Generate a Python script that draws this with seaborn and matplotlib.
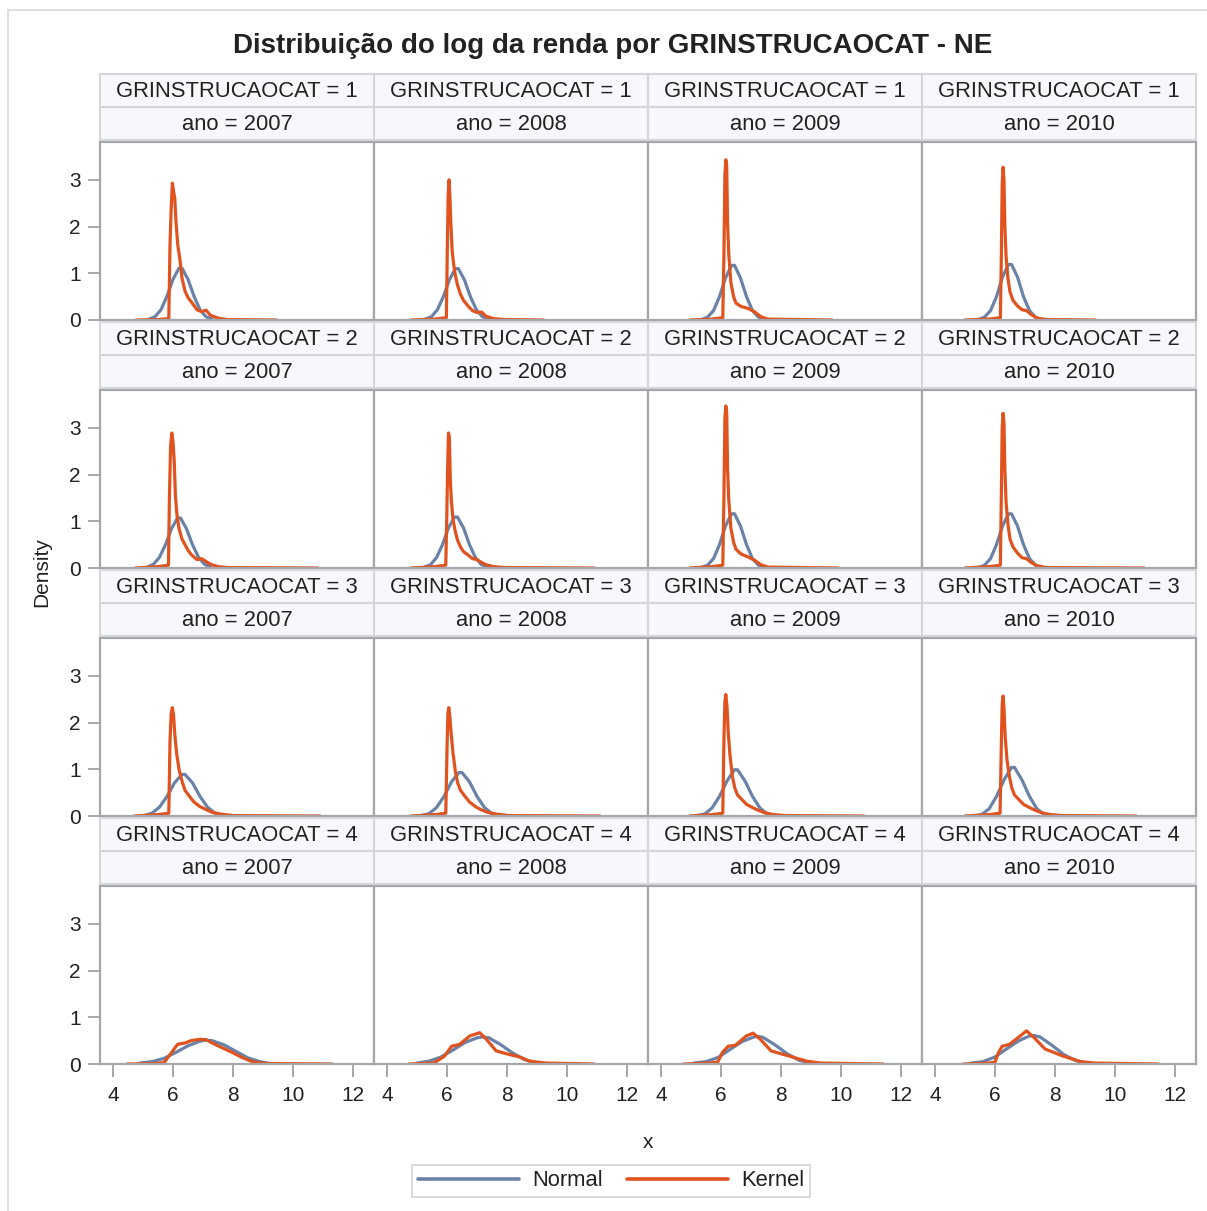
import matplotlib
matplotlib.use("Agg")
import matplotlib.pyplot as plt
import seaborn as sns
import pandas as pd
from matplotlib.patches import Rectangle
from matplotlib.lines import Line2D
from matplotlib import font_manager

# ---------------- data ----------------
grupos = [1, 2, 3, 4]
anos = [2007, 2008, 2009, 2010]
curvas = ["Normal", "Kernel"]

# GRINSTRUCAOCAT = 1
n1_2007_x = [5.2, 5.4, 5.6, 5.8, 6.0, 6.2, 6.3, 6.5, 6.7, 6.9, 7.1, 7.3]
n1_2007_y = [0.02, 0.07, 0.22, 0.51, 0.87, 1.11, 1.11, 0.87, 0.51, 0.22, 0.07, 0.02]
k1_2007_x = [4.77, 5.5, 5.86, 5.9, 5.94, 5.98, 6.02, 6.06, 6.1, 6.16, 6.23, 6.3, 6.4, 6.5, 6.62, 6.8, 6.95, 7.1, 7.25, 7.5, 7.8, 9.45]
k1_2007_y = [0.0, 0.01, 0.03, 1.6, 2.4, 2.93, 2.75, 2.6, 2.1, 1.6, 1.3, 0.9, 0.62, 0.48, 0.38, 0.22, 0.18, 0.21, 0.1, 0.04, 0.01, 0.0]
n1_2008_x = [5.28, 5.48, 5.68, 5.88, 6.08, 6.28, 6.38, 6.58, 6.78, 6.98, 7.18, 7.38]
n1_2008_y = [0.02, 0.07, 0.22, 0.5, 0.86, 1.1, 1.1, 0.86, 0.5, 0.22, 0.07, 0.02]
k1_2008_x = [4.8, 5.6, 5.98, 6.01, 6.04, 6.07, 6.1, 6.13, 6.17, 6.22, 6.28, 6.35, 6.45, 6.55, 6.7, 6.85, 7.0, 7.15, 7.3, 7.55, 7.9, 9.22]
k1_2008_y = [0.0, 0.02, 0.05, 1.5, 2.7, 3.0, 2.6, 2.05, 1.5, 1.2, 0.95, 0.75, 0.55, 0.42, 0.3, 0.2, 0.16, 0.17, 0.08, 0.03, 0.01, 0.0]
n1_2009_x = [5.35, 5.55, 5.75, 5.95, 6.15, 6.35, 6.45, 6.65, 6.85, 7.05, 7.25, 7.45]
n1_2009_y = [0.01, 0.06, 0.2, 0.5, 0.9, 1.17, 1.17, 0.9, 0.5, 0.2, 0.06, 0.01]
k1_2009_x = [4.95, 5.7, 6.06, 6.1, 6.13, 6.16, 6.19, 6.22, 6.26, 6.33, 6.42, 6.5, 6.67, 6.89, 7.11, 7.33, 7.56, 9.7]
k1_2009_y = [0.0, 0.02, 0.05, 1.5, 3.1, 3.43, 3.3, 2.05, 1.4, 0.8, 0.5, 0.36, 0.29, 0.25, 0.18, 0.07, 0.02, 0.0]
n1_2010_x = [5.45, 5.65, 5.85, 6.05, 6.25, 6.45, 6.55, 6.75, 6.95, 7.15, 7.35, 7.55]
n1_2010_y = [0.01, 0.06, 0.2, 0.5, 0.92, 1.19, 1.19, 0.92, 0.5, 0.2, 0.06, 0.01]
k1_2010_x = [5.0, 5.8, 6.18, 6.21, 6.24, 6.27, 6.3, 6.33, 6.37, 6.43, 6.5, 6.6, 6.75, 6.9, 7.05, 7.2, 7.4, 7.7, 9.35]
k1_2010_y = [0.0, 0.02, 0.05, 1.3, 2.9, 3.27, 3.0, 2.0, 1.35, 0.9, 0.6, 0.42, 0.3, 0.22, 0.2, 0.12, 0.04, 0.01, 0.0]

# GRINSTRUCAOCAT = 2
n2_2007_x = [5.15, 5.35, 5.55, 5.75, 5.95, 6.15, 6.25, 6.45, 6.65, 6.85, 7.05, 7.25]
n2_2007_y = [0.02, 0.08, 0.23, 0.5, 0.84, 1.07, 1.07, 0.84, 0.5, 0.23, 0.08, 0.02]
k2_2007_x = [4.75, 5.5, 5.85, 5.88, 5.92, 5.96, 6.0, 6.04, 6.08, 6.13, 6.2, 6.3, 6.4, 6.5, 6.62, 6.8, 6.95, 7.1, 7.25, 7.5, 7.8, 10.83]
k2_2007_y = [0.0, 0.03, 0.06, 1.5, 2.6, 2.89, 2.7, 2.3, 1.55, 1.15, 0.85, 0.62, 0.5, 0.38, 0.28, 0.18, 0.2, 0.14, 0.08, 0.03, 0.01, 0.0]
n2_2008_x = [5.25, 5.45, 5.65, 5.85, 6.05, 6.25, 6.35, 6.55, 6.75, 6.95, 7.15, 7.35]
n2_2008_y = [0.02, 0.07, 0.22, 0.5, 0.86, 1.09, 1.09, 0.86, 0.5, 0.22, 0.07, 0.02]
k2_2008_x = [4.8, 5.6, 5.96, 5.99, 6.02, 6.05, 6.08, 6.11, 6.15, 6.2, 6.27, 6.35, 6.45, 6.55, 6.7, 6.85, 7.0, 7.15, 7.3, 7.55, 7.9, 10.9]
k2_2008_y = [0.0, 0.03, 0.06, 1.0, 2.1, 2.89, 2.8, 1.9, 1.4, 1.05, 0.8, 0.6, 0.45, 0.35, 0.28, 0.2, 0.18, 0.12, 0.07, 0.03, 0.01, 0.0]
n2_2009_x = [5.35, 5.55, 5.75, 5.95, 6.15, 6.35, 6.45, 6.65, 6.85, 7.05, 7.25, 7.45]
n2_2009_y = [0.01, 0.06, 0.2, 0.5, 0.9, 1.16, 1.16, 0.9, 0.5, 0.2, 0.06, 0.01]
k2_2009_x = [4.95, 5.7, 6.06, 6.1, 6.13, 6.16, 6.19, 6.22, 6.26, 6.33, 6.42, 6.5, 6.67, 6.89, 7.11, 7.33, 7.56, 9.92]
k2_2009_y = [0.0, 0.03, 0.06, 1.6, 3.2, 3.47, 3.35, 2.1, 1.45, 0.85, 0.55, 0.4, 0.3, 0.24, 0.17, 0.07, 0.02, 0.0]
n2_2010_x = [5.45, 5.65, 5.85, 6.05, 6.25, 6.45, 6.55, 6.75, 6.95, 7.15, 7.35, 7.55]
n2_2010_y = [0.01, 0.06, 0.2, 0.5, 0.9, 1.16, 1.16, 0.9, 0.5, 0.2, 0.06, 0.01]
k2_2010_x = [5.0, 5.8, 6.18, 6.21, 6.24, 6.27, 6.3, 6.33, 6.37, 6.43, 6.5, 6.6, 6.75, 6.9, 7.05, 7.2, 7.4, 7.7, 10.97]
k2_2010_y = [0.0, 0.03, 0.06, 1.5, 3.0, 3.31, 3.1, 2.1, 1.4, 0.95, 0.62, 0.45, 0.32, 0.22, 0.2, 0.12, 0.05, 0.01, 0.0]

# GRINSTRUCAOCAT = 3
n3_2007_x = [5.05, 5.3, 5.55, 5.8, 6.05, 6.3, 6.4, 6.65, 6.9, 7.15, 7.4, 7.65]
n3_2007_y = [0.01, 0.06, 0.19, 0.42, 0.71, 0.89, 0.89, 0.71, 0.42, 0.19, 0.06, 0.01]
k3_2007_x = [4.7, 5.5, 5.86, 5.9, 5.94, 5.98, 6.02, 6.06, 6.12, 6.2, 6.3, 6.4, 6.55, 6.7, 6.9, 7.1, 7.3, 7.6, 8.0, 10.9]
k3_2007_y = [0.0, 0.03, 0.06, 1.6, 2.2, 2.32, 2.15, 1.75, 1.35, 1.0, 0.75, 0.55, 0.42, 0.3, 0.2, 0.14, 0.08, 0.04, 0.01, 0.0]
n3_2008_x = [5.15, 5.4, 5.65, 5.9, 6.15, 6.4, 6.5, 6.75, 7.0, 7.25, 7.5, 7.75]
n3_2008_y = [0.01, 0.05, 0.18, 0.42, 0.73, 0.93, 0.93, 0.73, 0.42, 0.18, 0.05, 0.01]
k3_2008_x = [4.8, 5.6, 5.96, 6.0, 6.03, 6.06, 6.1, 6.14, 6.2, 6.28, 6.36, 6.45, 6.6, 6.75, 6.95, 7.15, 7.35, 7.65, 8.05, 11.1]
k3_2008_y = [0.0, 0.03, 0.06, 1.4, 2.2, 2.32, 2.1, 1.75, 1.35, 0.95, 0.7, 0.55, 0.42, 0.3, 0.2, 0.13, 0.08, 0.04, 0.01, 0.0]
n3_2009_x = [5.2, 5.45, 5.7, 5.95, 6.2, 6.45, 6.55, 6.8, 7.05, 7.3, 7.55, 7.8]
n3_2009_y = [0.01, 0.04, 0.17, 0.42, 0.75, 0.99, 0.99, 0.75, 0.42, 0.17, 0.04, 0.01]
k3_2009_x = [4.95, 5.7, 6.06, 6.1, 6.13, 6.16, 6.2, 6.24, 6.3, 6.38, 6.46, 6.55, 6.7, 6.85, 7.05, 7.25, 7.45, 7.75, 8.15, 10.76]
k3_2009_y = [0.0, 0.03, 0.06, 1.7, 2.45, 2.6, 2.35, 1.8, 1.3, 0.85, 0.6, 0.45, 0.35, 0.25, 0.18, 0.12, 0.07, 0.03, 0.01, 0.0]
n3_2010_x = [5.3, 5.55, 5.8, 6.05, 6.3, 6.55, 6.65, 6.9, 7.15, 7.4, 7.65, 7.9]
n3_2010_y = [0.0, 0.03, 0.15, 0.42, 0.77, 1.04, 1.04, 0.77, 0.42, 0.15, 0.03, 0.0]
k3_2010_x = [5.0, 5.8, 6.17, 6.21, 6.24, 6.27, 6.3, 6.34, 6.4, 6.48, 6.56, 6.65, 6.8, 6.95, 7.15, 7.35, 7.55, 7.85, 8.25, 10.7]
k3_2010_y = [0.0, 0.03, 0.06, 1.5, 2.4, 2.57, 2.3, 1.7, 1.2, 0.85, 0.6, 0.45, 0.35, 0.25, 0.18, 0.12, 0.07, 0.03, 0.01, 0.0]

# GRINSTRUCAOCAT = 4
n4_2007_x = [4.9, 5.3, 5.7, 6.1, 6.5, 6.9, 7.1, 7.3, 7.7, 8.1, 8.5, 8.9, 9.2]
n4_2007_y = [0.02, 0.05, 0.12, 0.25, 0.39, 0.49, 0.51, 0.5, 0.41, 0.27, 0.13, 0.05, 0.01]
k4_2007_x = [4.47, 5.4, 5.7, 5.9, 6.15, 6.4, 6.6, 6.9, 7.1, 7.4, 7.7, 8.0, 8.3, 8.6, 8.9, 9.3, 11.3]
k4_2007_y = [0.0, 0.01, 0.03, 0.2, 0.42, 0.45, 0.5, 0.53, 0.52, 0.42, 0.33, 0.24, 0.14, 0.06, 0.02, 0.01, 0.0]
n4_2008_x = [5.0, 5.4, 5.8, 6.2, 6.6, 7.0, 7.2, 7.4, 7.8, 8.2, 8.6, 9.0]
n4_2008_y = [0.02, 0.06, 0.15, 0.3, 0.46, 0.56, 0.58, 0.56, 0.41, 0.23, 0.09, 0.02]
k4_2008_x = [4.73, 5.56, 5.92, 6.15, 6.42, 6.76, 7.09, 7.31, 7.64, 7.98, 8.42, 8.76, 9.31, 10.89]
k4_2008_y = [0.0, 0.02, 0.17, 0.38, 0.42, 0.6, 0.67, 0.53, 0.28, 0.22, 0.15, 0.06, 0.02, 0.0]
n4_2009_x = [5.1, 5.5, 5.9, 6.3, 6.7, 7.1, 7.25, 7.4, 7.8, 8.2, 8.6, 9.0]
n4_2009_y = [0.02, 0.05, 0.14, 0.31, 0.48, 0.58, 0.59, 0.57, 0.41, 0.22, 0.08, 0.02]
k4_2009_x = [4.75, 5.6, 5.89, 6.05, 6.24, 6.48, 6.84, 7.07, 7.31, 7.67, 8.27, 8.86, 9.33, 11.42]
k4_2009_y = [0.0, 0.02, 0.04, 0.25, 0.38, 0.4, 0.6, 0.66, 0.53, 0.28, 0.17, 0.06, 0.02, 0.0]
n4_2010_x = [5.2, 5.6, 6.0, 6.4, 6.8, 7.15, 7.3, 7.5, 7.9, 8.3, 8.7, 9.1]
n4_2010_y = [0.02, 0.05, 0.15, 0.33, 0.5, 0.6, 0.61, 0.58, 0.4, 0.2, 0.07, 0.02]
k4_2010_x = [4.93, 5.8, 6.0, 6.12, 6.24, 6.48, 6.84, 7.05, 7.31, 7.67, 8.27, 8.86, 9.33, 11.45]
k4_2010_y = [0.0, 0.02, 0.04, 0.25, 0.38, 0.42, 0.6, 0.71, 0.56, 0.32, 0.17, 0.05, 0.02, 0.0]

x_ticks = [4, 6, 8, 10, 12]
y_ticks = [0, 1, 2, 3]

# ---------------- build long table ----------------
g = globals()
rows = []
for gr in grupos:
    for an in anos:
        for cv, pref in (("Normal", "n"), ("Kernel", "k")):
            xs = g[f"{pref}{gr}_{an}_x"]
            ys = g[f"{pref}{gr}_{an}_y"]
            for i, (xv, yv) in enumerate(zip(xs, ys)):
                rows.append({"GRINSTRUCAOCAT": gr, "ano": an, "curva": cv,
                             "ordem": i, "x": xv, "Density": yv})
df = pd.DataFrame(rows)

# ---------------- style ----------------
sns.set_theme(style="white")
names = {f.name for f in font_manager.fontManager.ttflist}
base_font = "Liberation Sans" if "Liberation Sans" in names else "DejaVu Sans"
plt.rcParams["font.family"] = [base_font, "DejaVu Sans"]

BLUE = "#6a82a8"
ORANGE = "#e0531f"
FRAME = "#a3a7ab"
HEAD_FACE = "#f7f8fc"
HEAD_EDGE = "#d4d6d9"
TXT = "#222222"

W, H = 1207, 1211
fig = plt.figure(figsize=(W / 100, H / 100), dpi=100)
fig.patch.set_facecolor("white")


def fx(px):
    return px / W


def fy(py):
    return 1 - py / H


LEFT, COLW = 100, 274
TOP0, ROWH = 74, 248
HEAD_H = 33
PLOT_OFF, PLOT_H = 68, 178

XLIM = (3.567, 12.7)
YLIM = (0, 3.81)

# outer frame of the picture
fig.add_artist(Line2D([fx(8), fx(8)], [fy(10), fy(1211)], color="#d9d9d9", lw=1.2))
fig.add_artist(Line2D([fx(8), fx(1207)], [fy(10), fy(10)], color="#d9d9d9", lw=1.2))

fig.text(fx(613), fy(46), "Distribuição do log da renda por GRINSTRUCAOCAT - NE",
         ha="center", va="center", fontsize=20, fontweight="bold", color=TXT)

for r, gr in enumerate(grupos):
    for c, an in enumerate(anos):
        x0 = LEFT + COLW * c
        ytop = TOP0 + ROWH * r
        # header cells
        for k, label in enumerate([f"GRINSTRUCAOCAT = {gr}", f"ano = {an}"]):
            yy = ytop + HEAD_H * k
            fig.add_artist(Rectangle((fx(x0), fy(yy + HEAD_H)), COLW / W, HEAD_H / H,
                                     transform=fig.transFigure, facecolor=HEAD_FACE,
                                     edgecolor=HEAD_EDGE, lw=1.5))
            fig.text(fx(x0 + COLW / 2), fy(yy + HEAD_H / 2 + 1), label, ha="center",
                     va="center", fontsize=15.8, color=TXT)
        # plot panel
        pt = ytop + PLOT_OFF
        ax = fig.add_axes([fx(x0), fy(pt + PLOT_H), COLW / W, PLOT_H / H])
        sub = df[(df["GRINSTRUCAOCAT"] == gr) & (df["ano"] == an)]
        sns.lineplot(data=sub, x="x", y="Density", hue="curva", hue_order=curvas,
                     units="curva", estimator=None, sort=False,
                     palette=[BLUE, ORANGE], lw=2.3, legend=False, ax=ax)
        ax.set_xlim(*XLIM)
        ax.set_ylim(*YLIM)
        ax.set_xlabel("")
        ax.set_ylabel("")
        for sp in ax.spines.values():
            sp.set_color(FRAME)
            sp.set_linewidth(1.6)
        ax.set_facecolor("white")
        ax.set_xticks(x_ticks)
        ax.set_yticks(y_ticks)
        ax.tick_params(axis="both", colors="#8c9095", length=9, width=1.1,
                       labelsize=15, labelcolor=TXT, pad=5)
        if c != 0:
            ax.tick_params(axis="y", left=False, labelleft=False)
        else:
            ax.tick_params(axis="y", left=True, labelleft=True)
        if r != len(grupos) - 1:
            ax.tick_params(axis="x", bottom=False, labelbottom=False)
        else:
            ax.tick_params(axis="x", bottom=True, labelbottom=True, pad=7)

fig.text(fx(648), fy(1142), "x", ha="center", va="center", fontsize=15, color=TXT)
fig.text(fx(42), fy(572), "Density", ha="center", va="center", rotation=90,
         fontsize=15, color=TXT)

handles = [Line2D([], [], color=BLUE, lw=2.6), Line2D([], [], color=ORANGE, lw=2.6)]
leg = fig.legend(handles, curvas, loc="center", bbox_to_anchor=(fx(611), fy(1181)),
                 ncol=2, frameon=True, fancybox=False, fontsize=15.8,
                 handlelength=4.6, handletextpad=0.6, columnspacing=1.1,
                 borderpad=0.25, borderaxespad=0)
leg.get_frame().set_edgecolor("#c9c9c9")
leg.get_frame().set_linewidth(1.2)
for t in leg.get_texts():
    t.set_color(TXT)

fig.savefig("out.png", dpi=100, facecolor="white")
